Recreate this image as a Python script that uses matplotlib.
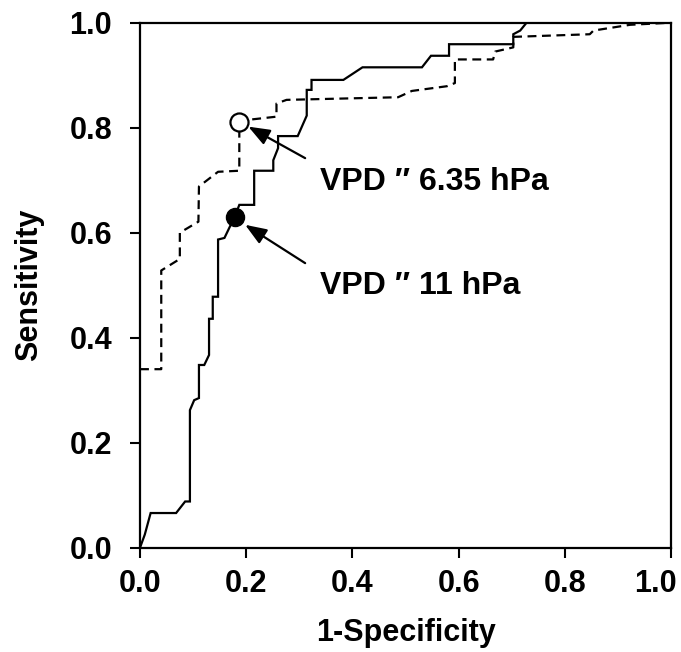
import matplotlib
matplotlib.use("Agg")
import matplotlib.pyplot as plt
from matplotlib.transforms import ScaledTranslation

# ---------------- DATA ----------------
# solid ROC curve (VPD threshold 11 hPa)
solid_x = [0.0, 0.009, 0.020, 0.068, 0.085, 0.094, 0.094, 0.102, 0.111, 0.111,
           0.121, 0.130, 0.130, 0.137, 0.137, 0.147, 0.147, 0.159, 0.169, 0.178,
           0.187, 0.215, 0.215, 0.251, 0.251, 0.260, 0.260, 0.297, 0.314, 0.314,
           0.323, 0.323, 0.383, 0.419, 0.531, 0.548, 0.582, 0.582, 0.703, 0.703,
           0.716, 0.728, 1.0]
solid_y = [0.0, 0.025, 0.066, 0.066, 0.088, 0.088, 0.262, 0.281, 0.285, 0.348,
           0.348, 0.367, 0.436, 0.436, 0.478, 0.478, 0.587, 0.590, 0.611, 0.629,
           0.653, 0.653, 0.718, 0.718, 0.738, 0.761, 0.784, 0.784, 0.823, 0.872,
           0.872, 0.891, 0.891, 0.915, 0.915, 0.937, 0.937, 0.959, 0.959, 0.978,
           0.985, 1.0, 1.0]

# dashed ROC curve (VPD threshold 6.35 hPa)
dash_x = [0.0, 0.040, 0.040, 0.075, 0.075, 0.110, 0.111, 0.147, 0.187, 0.187,
          0.204, 0.257, 0.257, 0.276, 0.486, 0.512, 0.578, 0.593, 0.593, 0.665,
          0.669, 0.703, 0.703, 0.847, 0.854, 0.923, 1.0]
dash_y = [0.340, 0.340, 0.528, 0.550, 0.600, 0.621, 0.688, 0.716, 0.718, 0.811,
          0.815, 0.821, 0.846, 0.853, 0.858, 0.870, 0.879, 0.885, 0.930, 0.930,
          0.945, 0.953, 0.973, 0.978, 0.985, 0.996, 1.0]

# optimal cut-off points
open_pt = (0.186, 0.811)
filled_pt = (0.178, 0.629)

labels = ["VPD \u2033 6.35 hPa", "VPD \u2033 11 hPa"]
label_pos = [(0.339, 0.697), (0.339, 0.499)]
arrow_tips = [(0.204, 0.802), (0.198, 0.615)]
arrow_tails = [(0.311, 0.742), (0.311, 0.542)]

ticks = [0.0, 0.2, 0.4, 0.6, 0.8, 1.0]

# ---------------- PLOT ----------------
plt.rcParams["font.family"] = ["Liberation Sans", "DejaVu Sans"]
plt.rcParams["font.weight"] = "bold"

fig = plt.figure(figsize=(6.81, 6.52), dpi=100)
ax = fig.add_axes([0.2056, 0.160, 0.7797, 0.8052])

ax.plot(solid_x, solid_y, color="black", lw=1.6, solid_joinstyle="miter")
ax.plot(dash_x, dash_y, color="black", lw=1.6, dashes=(4, 2.5))

ax.plot(*open_pt, "o", ms=13, mfc="white", mec="black", mew=1.6, zorder=5)
ax.plot(*filled_pt, "o", ms=13, mfc="black", mec="black", zorder=5)

for tip, tail, txt, pos in zip(arrow_tips, arrow_tails, labels, label_pos):
    ax.annotate("", xy=tip, xytext=tail,
                arrowprops=dict(arrowstyle="-|>,head_length=0.65,head_width=0.25",
                                mutation_scale=20, color="black", lw=1.6,
                                shrinkA=0, shrinkB=0))
    ax.text(pos[0], pos[1], txt, fontsize=23, fontweight="bold",
            ha="left", va="center")

ax.set_xlim(0, 1)
ax.set_ylim(0, 1)
ax.set_xticks(ticks)
ax.set_yticks(ticks)
ax.set_xticklabels([f"{t:.1f}" for t in ticks], fontsize=22, fontweight="bold")
ax.set_yticklabels([f"{t:.1f}" for t in ticks], fontsize=22, fontweight="bold")
ax.tick_params(axis="x", direction="out", length=7, width=1.5, pad=8)
ax.tick_params(axis="y", direction="out", length=7, width=1.5, pad=13)

# last x label sits pulled in at the right edge, as in the original
last = ax.get_xticklabels()[-1]
last.set_ha("right")
last.set_transform(last.get_transform() + ScaledTranslation(0.06, 0, fig.dpi_scale_trans))

for s in ax.spines.values():
    s.set_linewidth(1.6)

ax.set_xlabel("1-Specificity", fontsize=22, fontweight="bold", labelpad=14)
ax.set_ylabel("Sensitivity", fontsize=22, fontweight="bold", labelpad=18)

fig.savefig("out.png", dpi=100)
